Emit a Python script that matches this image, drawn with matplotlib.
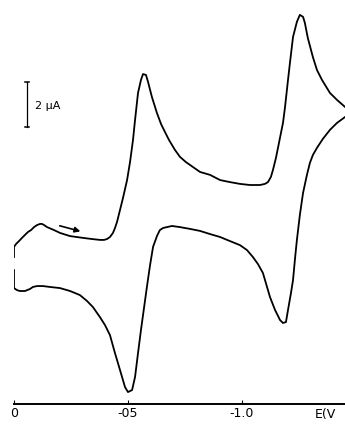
import matplotlib
matplotlib.use('Agg')
import matplotlib.pyplot as plt

# cyclic voltammogram, potential in V, current in uA (cathodic up)
fwd_E = [0.000, 0.000, -0.009, -0.022, -0.035, -0.048, -0.061, -0.075, -0.088, -0.101,
         -0.114, -0.123, -0.132, -0.145, -0.175, -0.202, -0.246, -0.303, -0.342, -0.377,
         -0.395, -0.408, -0.421, -0.434, -0.443, -0.452, -0.465, -0.478, -0.496, -0.509,
         -0.522, -0.531, -0.544, -0.557, -0.566, -0.579, -0.588, -0.605, -0.627, -0.645,
         -0.662, -0.680, -0.706, -0.728, -0.754, -0.785, -0.816, -0.860, -0.904, -0.947,
         -0.991, -1.035, -1.079, -1.101, -1.114, -1.127, -1.136, -1.149, -1.158, -1.171,
         -1.180, -1.189, -1.202, -1.211, -1.224, -1.241, -1.254, -1.268, -1.276, -1.289,
         -1.311, -1.329, -1.351, -1.386, -1.417, -1.452]
fwd_I = [0.31, 0.76, 0.89, 1.02, 1.16, 1.29, 1.42, 1.51, 1.64, 1.73,
         1.78, 1.78, 1.73, 1.64, 1.51, 1.38, 1.24, 1.16, 1.11, 1.07,
         1.07, 1.11, 1.20, 1.38, 1.60, 1.87, 2.40, 2.93, 3.73, 4.53,
         5.51, 6.40, 7.60, 8.18, 8.44, 8.40, 8.09, 7.42, 6.71, 6.22,
         5.87, 5.51, 5.07, 4.76, 4.53, 4.31, 4.09, 3.96, 3.73, 3.64,
         3.56, 3.51, 3.51, 3.56, 3.64, 3.87, 4.18, 4.71, 5.16, 5.82,
         6.27, 6.98, 8.18, 8.98, 10.09, 10.76, 11.07, 10.98, 10.71, 10.04,
         9.20, 8.62, 8.18, 7.60, 7.29, 6.98]

rev_E = [-1.452, -1.417, -1.386, -1.355, -1.329, -1.311, -1.298, -1.285, -1.268, -1.254,
         -1.241, -1.233, -1.224, -1.215, -1.202, -1.193, -1.180, -1.167, -1.145, -1.123,
         -1.101, -1.092, -1.070, -1.048, -1.022, -0.991, -0.947, -0.904, -0.860, -0.816,
         -0.772, -0.728, -0.693, -0.671, -0.654, -0.640, -0.627, -0.610, -0.597, -0.583,
         -0.557, -0.544, -0.531, -0.518, -0.500, -0.487, -0.465, -0.443, -0.421, -0.399,
         -0.377, -0.346, -0.320, -0.289, -0.246, -0.202, -0.158, -0.127, -0.101, -0.083,
         -0.070, -0.048, -0.026, -0.013, 0.000, 0.000]
rev_I = [6.53, 6.27, 5.96, 5.56, 5.16, 4.84, 4.49, 3.96, 3.16, 2.18,
         1.07, 0.27, -0.71, -1.29, -2.04, -2.58, -2.62, -2.49, -2.04, -1.47,
         -0.71, -0.40, 0.00, 0.31, 0.62, 0.84, 1.02, 1.20, 1.33, 1.47,
         1.56, 1.64, 1.69, 1.64, 1.60, 1.51, 1.24, 0.76, -0.04, -1.02,
         -2.93, -3.96, -5.02, -5.60, -5.69, -5.47, -4.71, -3.96, -3.16, -2.71,
         -2.36, -1.91, -1.64, -1.38, -1.20, -1.07, -1.02, -0.98, -0.98, -1.02,
         -1.11, -1.20, -1.20, -1.16, -1.07, -0.27]

tick_vals = [0.0, -0.5, -1.0]
tick_labels = ['0', '-05', '-1.0']

fig = plt.figure(figsize=(3.45, 4.24), dpi=100)
ax = fig.add_axes([14 / 345, 20 / 424, 331 / 345, 404 / 424])
ax.set_xlim(0, -1.452)
ax.set_ylim(-6.22, 11.73)

ax.plot(fwd_E, fwd_I, color='black', lw=1.3, solid_joinstyle='round')
ax.plot(rev_E, rev_I, color='black', lw=1.3, solid_joinstyle='round')

# scan direction arrow
ax.annotate('', xy=(-0.303, 1.42), xytext=(-0.189, 1.73),
            arrowprops=dict(arrowstyle='-|>', color='black', lw=1.2,
                            mutation_scale=8))

# current scale bar
ax.plot([-0.057, -0.057], [6.09, 8.09], color='black', lw=0.9)
ax.plot([-0.048, -0.066], [8.09, 8.09], color='black', lw=1.1)
ax.plot([-0.048, -0.066], [6.09, 6.09], color='black', lw=1.1)
ax.text(-0.092, 7.0, '2 \u03bcA', fontsize=8, va='center', ha='left')

for s in ['left', 'right', 'top']:
    ax.spines[s].set_visible(False)
ax.spines['bottom'].set_linewidth(1.4)
ax.set_yticks([])
ax.set_xticks(tick_vals)
ax.set_xticklabels(tick_labels, fontsize=9)
ax.tick_params(axis='x', direction='in', length=3, width=0.8, pad=2)
ax.text(-1.320, -6.40, 'E(V', fontsize=9, ha='left', va='top', clip_on=False)

fig.savefig('out.png', dpi=100)
